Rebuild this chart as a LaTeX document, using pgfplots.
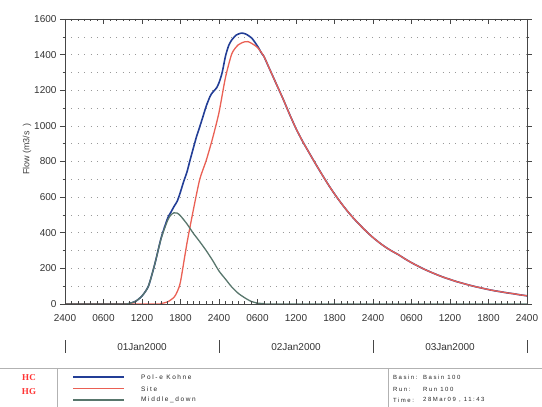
\documentclass[border=0pt]{standalone}
\usepackage{fontspec}
\setmainfont{Liberation Sans}
\newfontfamily\legfont[LetterSpace=25]{Liberation Sans}
\newfontfamily\logofont{Liberation Serif}
\usepackage{pgfplots}
\pgfplotsset{compat=1.18}

\definecolor{pkblue}{RGB}{35,62,150}
\definecolor{sitered}{RGB}{234,96,84}
\definecolor{mdgreen}{RGB}{88,118,108}
\definecolor{axgray}{RGB}{70,70,70}

\pgfplotsset{
  commonax/.style={
    at={(65pt,103pt)}, anchor=south west,
    scale only axis, width=462pt, height=285pt,
    xmin=0, xmax=72, ymin=0, ymax=1600,
    axis line style={axgray, line width=0.7pt},
    every tick/.style={axgray, line width=0.5pt},
    major tick length=5pt, minor tick length=2.5pt,
    tick label style={font=\fontsize{10}{12}\selectfont, text=black!80},
  },
  dotgrid/.style={gray!80, line width=0.5pt, dash pattern=on 0.7pt off 5.7pt},
}

\begin{document}
\begin{tikzpicture}
\path[use as bounding box] (0,0) rectangle (542pt,407pt);

% data axis: y ticks outside, grid
\begin{axis}[
  commonax,
  tick align=outside,
  xtick=\empty,
  ytick={0,200,...,1600},
  minor y tick num=1,
  ymajorgrids, yminorgrids,
  major grid style={dotgrid}, minor grid style={dotgrid},
  /pgf/number format/assume math mode=true,
  /pgf/number format/1000 sep={},
  no markers,
]
% Pol-e Kohne
\addplot[pkblue, line width=1.6pt, smooth, tension=0.4] coordinates {
(0,0) (9,0) (10,3) (11,15) (12,45) (13,100) (14,225) (15,373) (16,482)
(16.5,515) (17,548) (17.5,578) (18,630) (18.5,688) (19,740) (19.5,809)
(20,875) (20.5,940) (21,995) (21.5,1052) (22,1110) (22.6,1165) (23,1188)
(23.6,1212) (24,1242) (24.5,1300) (25,1390) (25.5,1450) (26,1483)
(26.7,1510) (27.5,1521) (28.2,1515) (29.1,1493) (30,1448) (30.6,1410)
(31,1390) (32,1310) (33,1230) (34,1150) (35,1065) (36,985) (37,915)
(38,852) (39,790) (40,730) (41,672) (42,618) (43,568) (44,522) (45,480)
(46,442) (47,406) (48,373) (49,344) (50,318) (51,296) (52,276) (53,253)
(54,232) (55,213) (56,195) (57,179) (58,164) (59,150) (60,138) (61,126)
(62,116) (63,106) (64,97) (65,89) (66,81) (67,74) (68,68) (69,62) (70,57)
(71,51) (72,46)
};
% Site
\addplot[sitered, line width=1.3pt, smooth, tension=0.4] coordinates {
(0,0) (14,0) (15,3) (16,12) (17,38) (17.5,70) (18,125) (19,340) (20,528)
(21,700) (22,805) (23,930) (24,1075) (25,1270) (26,1405) (27,1455)
(28,1472) (28.5,1473) (29,1465) (30,1440) (31,1390) (32,1310) (33,1230)
(34,1150) (35,1065) (36,985) (37,915) (38,852) (39,790) (40,730) (41,672)
(42,618) (43,568) (44,522) (45,480) (46,442) (47,406) (48,373) (49,344)
(50,318) (51,296) (52,276) (53,253) (54,232) (55,213) (56,195) (57,179)
(58,164) (59,150) (60,138) (61,126) (62,116) (63,106) (64,97) (65,89)
(66,81) (67,74) (68,68) (69,62) (70,57) (71,51) (72,46)
};
% Middle_down
\addplot[mdgreen, line width=1.3pt, smooth, tension=0.4] coordinates {
(0,0) (9,0) (10,3) (11,15) (12,45) (13,100) (14,225) (15,370) (16,470)
(16.5,500) (17,512) (17.5,510) (18,495) (19,450) (20,397) (21,350)
(22,300) (23,245) (24,185) (25,140) (26,95) (27,60) (28,35) (29,15)
(30,5) (31,2) (32,0) (72,0)
};
\end{axis}

% time axis: x ticks inside
\begin{axis}[
  commonax,
  tick align=inside,
  ytick=\empty,
  xtick={0,6,...,72},
  xticklabels={2400,0600,1200,1800,2400,0600,1200,1800,2400,0600,1200,1800,2400},
  minor x tick num=5,
  xticklabel style={yshift=-7pt},
]
\end{axis}

\node[rotate=90, font=\fontsize{9}{11}\selectfont, text=black!75] at (27pt,258pt) {Flow (m3/s\hspace{5pt})};

% date row
\foreach \xx in {65,219,373,527}
  \draw[axgray, line width=0.8pt] (\xx pt,54pt) -- (\xx pt,67pt);
\node[font=\fontsize{10}{12}\selectfont, text=black!80] at (142pt,60pt) {01Jan2000};
\node[font=\fontsize{10}{12}\selectfont, text=black!80] at (296pt,60pt) {02Jan2000};
\node[font=\fontsize{10}{12}\selectfont, text=black!80] at (450pt,60pt) {03Jan2000};

% footer
\draw[gray!60, line width=0.6pt] (0pt,39pt) -- (542pt,39pt);
\draw[gray!60, line width=0.6pt] (57pt,39pt) -- (57pt,0pt);
\draw[gray!60, line width=0.6pt] (388pt,39pt) -- (388pt,0pt);
\node[font=\logofont\bfseries\fontsize{9}{10}\selectfont, text=red!80] at (29pt,29pt) {HC};
\node[font=\logofont\bfseries\fontsize{9}{10}\selectfont, text=red!80] at (29pt,15pt) {HG};

\draw[pkblue, line width=1.2pt] (73pt,30pt) -- (124pt,30pt);
\draw[sitered, line width=1.0pt] (73pt,18pt) -- (124pt,18pt);
\draw[mdgreen, line width=1.1pt] (73pt,7pt) -- (124pt,7pt);
\begin{scope}[every node/.style={anchor=west, inner sep=0pt, font=\legfont\fontsize{6.5}{8}\selectfont, text=black!85}]
\node at (141pt,30pt) {Pol-e Kohne};
\node at (141pt,18pt) {Site};
\node at (141pt,7pt) {Middle\_down};
\end{scope}
\begin{scope}[every node/.style={anchor=west, inner sep=0pt, font=\legfont\fontsize{6}{7}\selectfont, text=black!85}]
\node at (393pt,30pt) {Basin:};
\node at (393pt,18pt) {Run:};
\node at (393pt,7pt) {Time:};
\node at (423pt,30pt) {Basin 100};
\node at (423pt,18pt) {Run 100};
\node at (423pt,7pt) {28Mar09 , 11:43};
\end{scope}
\end{tikzpicture}
\end{document}
